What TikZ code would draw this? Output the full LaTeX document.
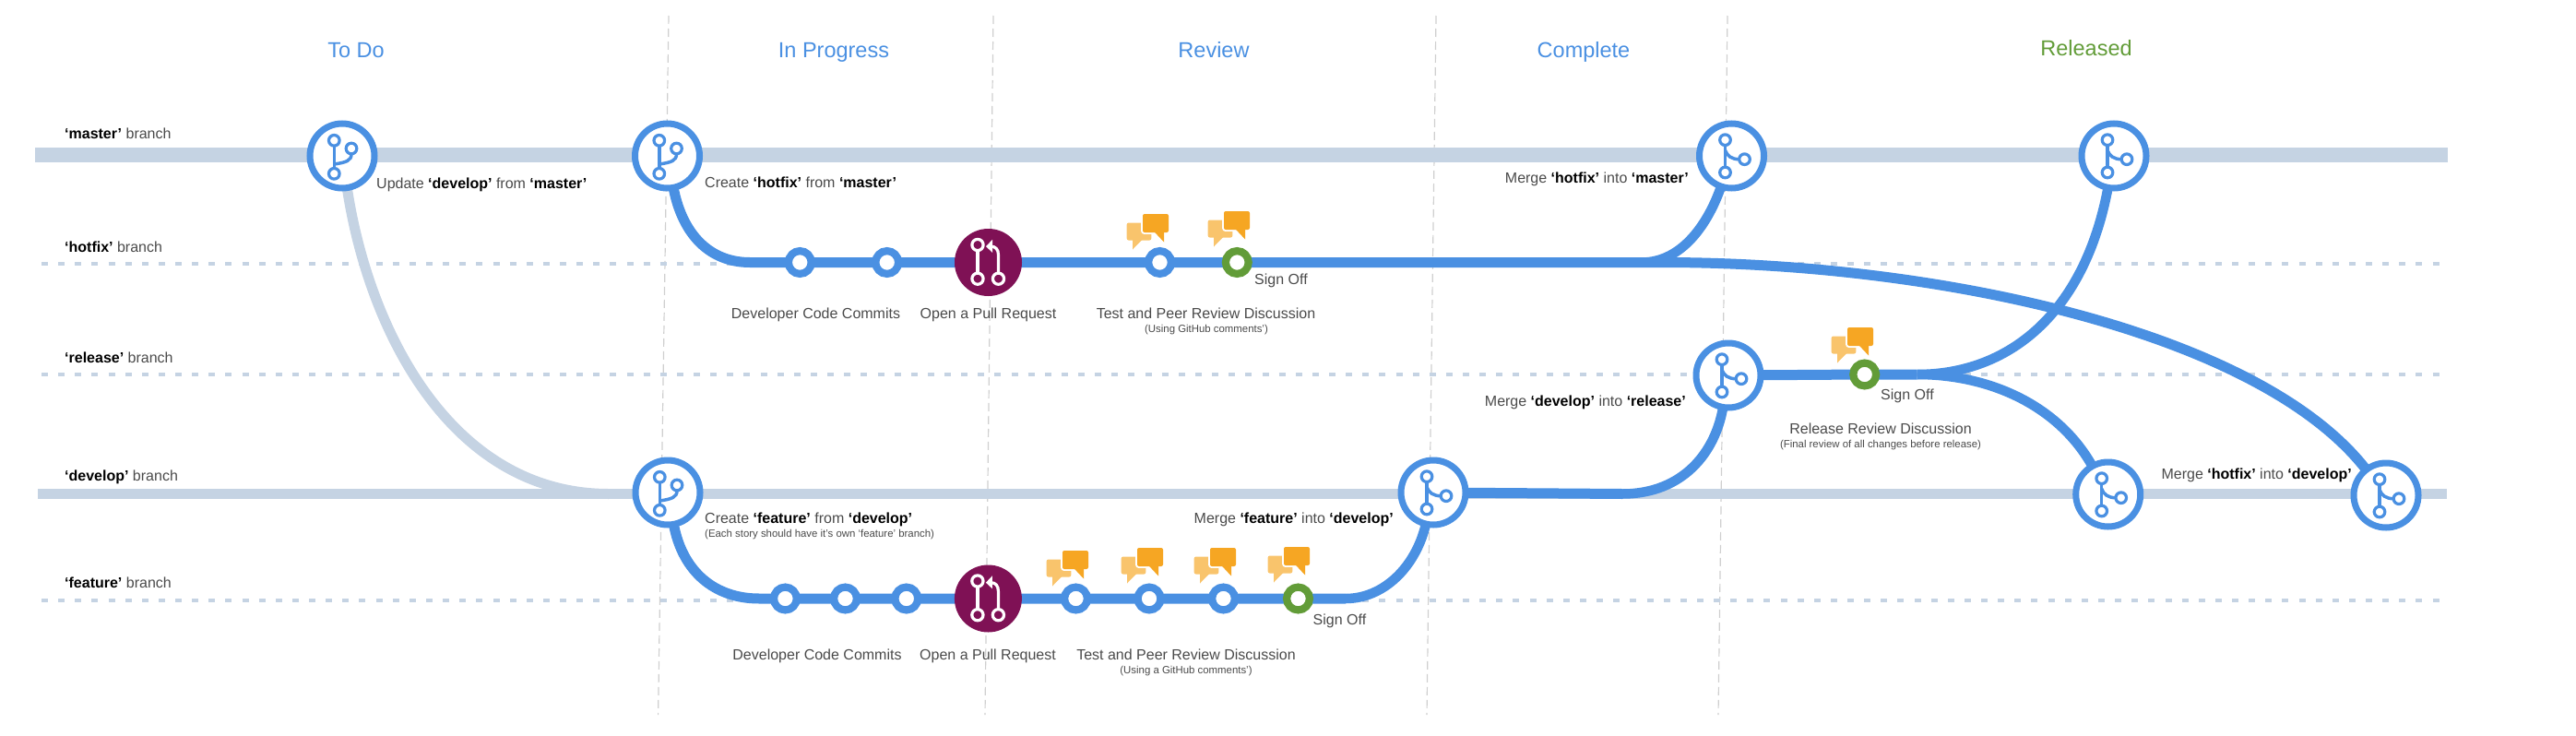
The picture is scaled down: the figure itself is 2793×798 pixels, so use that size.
\documentclass[tikz,border=0pt]{standalone}
\usepackage{fontspec}
\setmainfont{Liberation Sans}
\usetikzlibrary{backgrounds}
\definecolor{gitblue}{HTML}{4A90E2}
\definecolor{bandgrey}{HTML}{C5D3E3}
\definecolor{signgreen}{HTML}{629C38}
\definecolor{prpurple}{HTML}{7F1155}
\definecolor{talkdark}{HTML}{F6A623}
\definecolor{talklight}{HTML}{F9C46C}
\definecolor{lanegrey}{HTML}{CFCFCF}
\definecolor{textgrey}{HTML}{4A4A4A}
\newcommand{\brname}[1]{\textbf{\textcolor{black}{#1}}}
\tikzset{
    gitnode/.style={circle,draw=gitblue,fill=white,line width=7,minimum size=70,inner sep=0,outer sep=0},
    prnode/.style={circle,fill=prpurple,minimum size=73,inner sep=0,outer sep=0},
    commitnode/.style={circle,draw=gitblue,fill=white,line width=8.2,minimum size=24.8,inner sep=0,outer sep=0},
    signnode/.style={commitnode,draw=signgreen},
    coltitle/.style={text=gitblue,font=\fontsize{23.5}{28}\selectfont,text height=17,text depth=5,inner sep=0},
    lbl/.style={text=textgrey,font=\fontsize{16}{19}\selectfont,text height=12,text depth=1,inner sep=0},
    smalllbl/.style={text=textgrey,font=\fontsize{11.4}{14}\selectfont,text height=8.5,text depth=.5,inner sep=0},
    lane/.style={draw=lanegrey,line width=1.2,dash pattern=on 9pt off 5pt},
    band/.style={draw=bandgrey,line width=11},
    dotline/.style={draw=bandgrey,line width=4.5,dash pattern=on 7pt off 11.13pt},
    flow/.style={draw=gitblue,line width=11},
    thinflow/.style={draw=gitblue,line width=10.5},
    forkmark/.pic={
        \draw[gitblue,line width=3.2] (-8.7,-16.7) circle (5.8);
        \draw[gitblue,line width=3.2] (-8.7,19.3) circle (5.8);
        \draw[gitblue,line width=3.2] (10,-8) circle (5.8);
        \draw[gitblue,line width=3.5] (-8.7,-10.9) -- (-8.7,13.5);
        \draw[gitblue,line width=3.5] (10,-2.2) .. controls (10,5) and (5,7) .. (-8.7,9);
    },
    joinmark/.pic={
        \draw[gitblue,line width=3.2] (-7,-17.3) circle (5.8);
        \draw[gitblue,line width=3.2] (-7,18) circle (5.8);
        \draw[gitblue,line width=3.2] (14,3.7) circle (5.8);
        \draw[gitblue,line width=3.5] (-7,-11.5) -- (-7,12.2);
        \draw[gitblue,line width=3.5] (-7,-6) .. controls (-5,0) and (0,3.7) .. (8.2,3.7);
    },
    pullmark/.pic={
        \draw[white,line width=3.2] (-11.5,-19) circle (6.1);
        \draw[white,line width=3.2] (-11.5,17.7) circle (6.1);
        \draw[white,line width=3.2] (11,17.7) circle (6.1);
        \draw[white,line width=3.2] (-11.5,-12.9) -- (-11.5,11.6);
        \draw[white,line width=3.2] (11,11.6) -- (11,-8) .. controls (11,-14) and (8,-17.3) .. (3,-17.3);
        \fill[white] (-2.5,-17.3) -- (4.5,-24.7) -- (4.5,-10.7) -- cycle;
    },
    talkmark/.pic={
        \fill[talklight,rounded corners=2] (-31.3,-.5) rectangle (-4.7,18.5);
        \fill[talklight] (-25,18) -- (-25,28.5) -- (-14.7,18) -- cycle;
        \fill[white,rounded corners=3] (-15.8,-11.8) rectangle (15.8,11.8);
        \fill[white] (-4,10) -- (10.8,10) -- (10.8,24) -- cycle;
        \fill[talkdark,rounded corners=2] (-14,-10) rectangle (14,10);
        \fill[talkdark] (-1.3,9.5) -- (9,9.5) -- (9,20.5) -- cycle;
    }
}
\begin{document}
\begin{tikzpicture}[x=1pt,y=-1pt]
    \useasboundingbox (0,0) rectangle (2793,798);

    \node[coltitle] (titletodo) at (386,56) {To Do};
    \node[coltitle] (titleprogress) at (904,56) {In Progress};
    \node[coltitle] (titlereview) at (1316,56) {Review};
    \node[coltitle] (titlecomplete) at (1717,56) {Complete};
    \node[coltitle,text=signgreen] (titlereleased) at (2262,54) {Released};

    \node[gitnode] (mastersync) at (371,169) {};
    \node[gitnode] (hotfixstart) at (723.5,169) {};
    \node[gitnode] (hotfixmerge) at (1877.5,169) {};
    \node[gitnode] (masterrelease) at (2292,169) {};
    \node[gitnode] (releasestart) at (1874,407) {};
    \node[gitnode] (featurestart) at (724,534) {};
    \node[gitnode] (featuremerge) at (1554,534) {};
    \node[gitnode] (developrelease) at (2285.7,536) {};
    \node[gitnode] (hotfixback) at (2587,537) {};

    \node[commitnode] (hotfixcommita) at (867.3,284.5) {};
    \node[commitnode] (hotfixcommitb) at (961.7,284.5) {};
    \node[prnode] (hotfixpr) at (1071.5,284.5) {};
    \node[commitnode] (hotfixtest) at (1257.5,284.5) {};
    \node[signnode] (hotfixsign) at (1341.3,284.5) {};
    \node[signnode] (releasesign) at (2021.7,406) {};
    \node[commitnode] (featurecommita) at (851.4,649) {};
    \node[commitnode] (featurecommitb) at (916.5,649) {};
    \node[commitnode] (featurecommitc) at (982.8,649) {};
    \node[prnode] (featurepr) at (1071.4,649) {};
    \node[commitnode] (featuretesta) at (1166.5,649) {};
    \node[commitnode] (featuretestb) at (1246,649) {};
    \node[commitnode] (featuretestc) at (1326.5,649) {};
    \node[signnode] (featuresign) at (1407.5,649) {};

    \coordinate (masterleft) at (38,168);
    \coordinate (masterright) at (2654,168);
    \coordinate (developleft) at (41,535.5);
    \coordinate (developright) at (2653,535.5);
    \coordinate (syncend) at (660,535.5);
    \coordinate (hotfixbend) at (813,284.5);
    \coordinate (hotfixjoin) at (1803,284.5);
    \coordinate (hotfixup) at (1780,284.5);
    \coordinate (featurebend) at (823,649);
    \coordinate (featureout) at (1459,649);
    \coordinate (developout) at (1759,535.5);
    \coordinate (releasejoin) at (2078.7,406);

    \begin{scope}[on background layer]
        \draw[lane] (725,17) -- (713.6,775);
        \draw[lane] (1077,17) -- (1068,775);
        \draw[lane] (1557,17) -- (1547,775);
        \draw[lane] (1873,17) -- (1863,775);

        \draw[dotline] (45,286) -- (2645,286);
        \draw[dotline] (45,406) -- (2645,406);
        \draw[dotline] (45,651) -- (2645,651);

        \draw[band,line width=16] (masterleft) -- (masterright);
        \draw[band] (developleft) -- (developright);
        \draw[band] (mastersync) .. controls (400,360) and (490,535.5) .. (syncend);

        \draw[flow] (hotfixstart) .. controls (740,255) and (770,284.5) .. (hotfixbend) -- (hotfixcommita) -- (hotfixcommitb) -- (hotfixpr.center) -- (hotfixtest) -- (hotfixsign) -- (hotfixjoin);
        \draw[thinflow] (hotfixup) .. controls (1825,284.5) and (1853,240) .. (hotfixmerge);
        \draw[flow] (hotfixjoin) .. controls (2100,284.5) and (2450,360) .. (hotfixback);

        \draw[flow] (featurestart) .. controls (740,620) and (775,649) .. (featurebend) -- (featurecommita) -- (featurecommitb) -- (featurecommitc) -- (featurepr.center) -- (featuretesta) -- (featuretestb) -- (featuretestc) -- (featuresign) -- (featureout);
        \draw[thinflow] (featureout) .. controls (1500,649) and (1535,615) .. (featuremerge);

        \draw[flow] (featuremerge) -- (developout);
        \draw[thinflow] (developout) .. controls (1825,535.5) and (1860,490) .. (releasestart);
        \draw[flow] (releasestart) -- (releasesign) -- (releasejoin);
        \draw[thinflow] (releasejoin) .. controls (2178,406) and (2260,340) .. (masterrelease);
        \draw[thinflow] (releasejoin) .. controls (2158,406) and (2232,440) .. (developrelease);
    \end{scope}

    \pic at (mastersync) {forkmark};
    \pic at (hotfixstart) {forkmark};
    \pic at (featurestart) {forkmark};
    \pic at (hotfixmerge) {joinmark};
    \pic at (masterrelease) {joinmark};
    \pic at (releasestart) {joinmark};
    \pic at (featuremerge) {joinmark};
    \pic at (developrelease) {joinmark};
    \pic at (hotfixback) {joinmark};
    \pic at (hotfixpr) {pullmark};
    \pic at (featurepr) {pullmark};

    \pic at (1253,242) {talkmark};
    \pic at (1341,239) {talkmark};
    \pic at (2017,365) {talkmark};
    \pic at (1166,607) {talkmark};
    \pic at (1247,604) {talkmark};
    \pic at (1326,604) {talkmark};
    \pic at (1406,603) {talkmark};

    \node[lbl,anchor=west] (namemaster) at (70,145) {\brname{‘master’} branch};
    \node[lbl,anchor=west] (namehotfix) at (70,268) {\brname{‘hotfix’} branch};
    \node[lbl,anchor=west] (namerelease) at (70,388) {\brname{‘release’} branch};
    \node[lbl,anchor=west] (namedevelop) at (70,516) {\brname{‘develop’} branch};
    \node[lbl,anchor=west] (namefeature) at (70,632) {\brname{‘feature’} branch};

    \node[lbl,anchor=west] (textsync) at (408,199) {Update \brname{‘develop’} from \brname{‘master’}};
    \node[lbl,anchor=west] (textstart) at (764,198) {Create \brname{‘hotfix’} from \brname{‘master’}};
    \node[lbl] (textcommits) at (884.5,340) {Developer Code Commits};
    \node[lbl] (textpr) at (1071.5,340) {Open a Pull Request};
    \node[lbl] (textreview) at (1307.5,340) {Test and Peer Review Discussion};
    \node[smalllbl] (noteghub) at (1308,356) {(Using GitHub comments’)};
    \node[lbl,anchor=west] (textsign) at (1360,303) {Sign Off};
    \node[lbl,anchor=east] (textmerge) at (1831,193) {Merge \brname{‘hotfix’} into \brname{‘master’}};
    \node[lbl,anchor=east] (textrelease) at (1828,435) {Merge \brname{‘develop’} into \brname{‘release’}};
    \node[lbl,anchor=west] (textrelsign) at (2039,428) {Sign Off};
    \node[lbl] (textrelreview) at (2039,465) {Release Review Discussion};
    \node[smalllbl] (notefinal) at (2039,481) {(Final review of all changes before release)};
    \node[lbl,anchor=east] (textback) at (2550,514) {Merge \brname{‘hotfix’} into \brname{‘develop’}};
    \node[lbl,anchor=west] (textfeature) at (764,562) {Create \brname{‘feature’} from \brname{‘develop’}};
    \node[smalllbl,anchor=west] (notestory) at (764,578) {(Each story should have it’s own ‘feature’ branch)};
    \node[lbl,anchor=east] (textfeatmerge) at (1511,562) {Merge \brname{‘feature’} into \brname{‘develop’}};
    \node[lbl] (textfcommits) at (886,710) {Developer Code Commits};
    \node[lbl] (textfpr) at (1071,710) {Open a Pull Request};
    \node[lbl] (textfreview) at (1286,710) {Test and Peer Review Discussion};
    \node[smalllbl] (notefghub) at (1286,726) {(Using a GitHub comments’)};
    \node[lbl,anchor=west] (textfsign) at (1423.5,672) {Sign Off};
\end{tikzpicture}
\end{document}
